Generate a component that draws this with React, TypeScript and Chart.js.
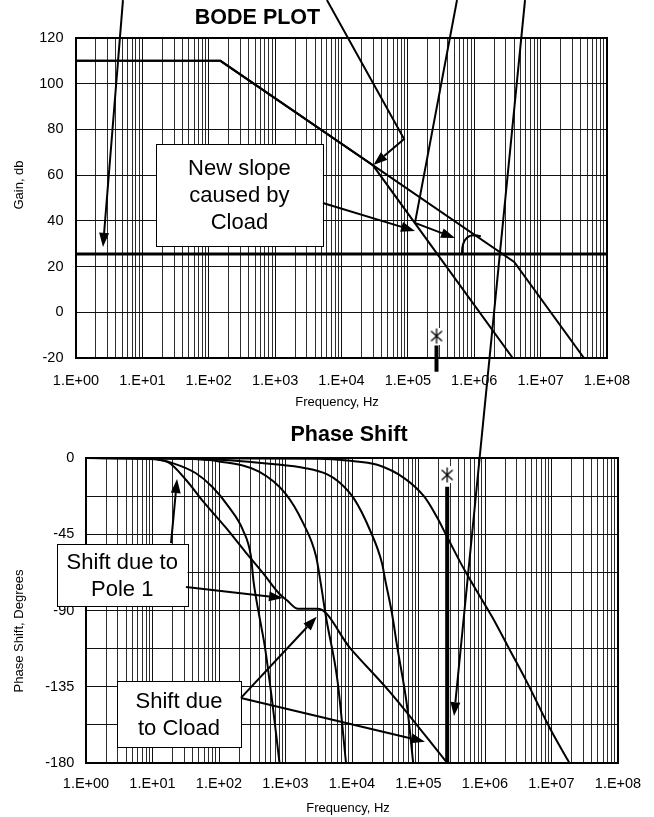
import React, { useEffect, useRef } from 'react';
import { Chart, registerables } from 'chart.js';

Chart.register(...registerables);

const FONT = '"Liberation Sans", Arial, Helvetica, sans-serif';
Chart.defaults.font.family = FONT;
Chart.defaults.color = '#000';

type Pt = [number, number];

// ---------- frequency axis (shared) ----------
const FREQ_MIN = 1;
const FREQ_MAX = 1e8;
const FREQ_TICK_LABELS = ['1.E+00', '1.E+01', '1.E+02', '1.E+03', '1.E+04', '1.E+05', '1.E+06', '1.E+07', '1.E+08'];
const GRID_MULTIPLIERS = [1, 2, 3, 4, 5, 6, 7, 8, 9];

// ---------- gain plot ----------
const GAIN_MIN = -20;
const GAIN_MAX = 120;
const GAIN_STEP = 20;

const gainFreqOpen = [1, 150, 4.0e6, 4.5e7];
const gainDbOpen = [110, 110, 22, -20];

const gainFreqCload = [1, 150, 3.0e4, 3.8e6];
const gainDbCload = [110, 110, 64.2, -20];

const refFreq = [1, 1e8];
const refGainDb = [25.5, 25.5];

const markerFreq = 2.7e5;
const markerGainDb = -10.4;
const markerGainStemDb = [-14.5, -26];

// ---------- phase plot ----------
const PHASE_MIN = -180;
const PHASE_MAX = 0;
const PHASE_STEP = 22.5;
const PHASE_LABEL_STEP = 45;

const phaseFreqPole1 = [1, 8, 17, 32, 56, 126, 250, 460, 800, 1050, 1550, 3100, 9300, 37000, 270000];
const phaseDegPole1 = [0, -0.5, -2.4, -13, -25, -41, -55.5, -68, -80, -84, -89, -89, -112, -138, -180];

const phaseFreqA = [1, 10, 20, 45, 79, 141, 229, 302, 331, 407, 490, 646, 813];
const phaseDegA = [0, -0.5, -3, -9, -17, -29, -42.5, -58, -73, -94, -111.5, -147, -180];

const phaseFreqB = [1, 32, 100, 400, 1000, 1820, 2880, 3390, 4070, 6030, 8130];
const phaseDegB = [0, -0.5, -2, -8, -21, -38, -58, -74, -94, -131, -180];

const phaseFreqC = [1, 100, 630, 2000, 4170, 6310, 10700, 18600, 28200, 31600, 39800, 47900, 67600, 83200];
const phaseDegC = [0, -1, -3.5, -6, -9.5, -14, -24, -42.5, -62, -72, -91.5, -111.5, -147, -180];

const phaseFreqD = [1, 3160, 8500, 24000, 61700, 123000, 190000, 269000, 490000, 851000, 1290000, 2340000, 4370000, 9330000, 17400000, 18600000];
const phaseDegD = [0, -0.5, -1.5, -4, -12, -23, -35, -46.5, -66, -82, -94, -113, -133, -159, -178, -180];

const markerPhaseDeg = -10;
const markerPhaseStemDeg = [-17, -180];

// ---------- callouts (in each plot's own units) ----------
const gainCallout = { from: [16, 73.6] as Pt, to: [5250, 29] as Pt, lines: ['New slope', 'caused by', 'Cload'] };
const gainArrows: Pt[][] = [
  [[5.1, 136.6], [2.55, 28.6]],
  [[6030, 136.6], [87700, 75.8], [30300, 64.4]],
  [[550000, 136.6], [128000, 39.1], [513000, 32.5]],
  [[5250, 47.8], [128000, 35.6]],
];
const gainHook: Pt[] = [[653000, 25.8], [653000, 35.6], [1.26e6, 33.2]];

const phaseCallouts = [
  { from: [0.366, -50.75] as Pt, to: [33.6, -87.3] as Pt, lines: ['Shift due to', 'Pole 1'] },
  { from: [2.92, -131.6] as Pt, to: [214, -170.6] as Pt, lines: ['Shift due', 'to Cload'] },
];
const phaseArrows: Pt[][] = [
  [[19, -50.2], [23.4, -12.4]],
  [[31.9, -76.1], [917, -82.6]],
  [[214, -141.6], [2946, -93.7]],
  [[214, -141.6], [125000, -167.4]],
];
// long pointer: starts above the gain plot, ends inside the phase plot
const crossArrowStart: Pt = [5.82e6, 136.6];
const crossArrowEnd: Pt = [342000, -152.3];

// ---------- layout ----------
const W = 654;
const TOP_H = 415;
const BOT_H = 402;

const toPoints = (xs: number[], ys: number[]) => xs.map((x, i) => ({ x, y: ys[i] }));

function gridFreqs(): number[] {
  const out: number[] = [];
  for (let e = 0; e < FREQ_TICK_LABELS.length - 1; e++) {
    for (const m of GRID_MULTIPLIERS) out.push(m * Math.pow(10, e));
  }
  out.push(FREQ_MAX);
  return out;
}

function decadeIndex(v: number): number {
  const e = Math.log10(v);
  const r = Math.round(e);
  return Math.abs(e - r) < 1e-6 ? r : -1;
}

function makeAsterisk(): HTMLCanvasElement {
  const c = document.createElement('canvas');
  c.width = 16;
  c.height = 17;
  const g = c.getContext('2d')!;
  g.fillStyle = '#fff';
  g.fillRect(0, 0, 16, 17);
  g.strokeStyle = '#000';
  g.lineWidth = 1.3;
  g.beginPath();
  g.moveTo(8, 1);
  g.lineTo(8, 16);
  g.moveTo(2.5, 3.5);
  g.lineTo(13.5, 13.5);
  g.moveTo(13.5, 3.5);
  g.lineTo(2.5, 13.5);
  g.stroke();
  return c;
}

const framePlugin = {
  id: 'plotFrame',
  afterDatasetsDraw(chart: any) {
    const { ctx, chartArea: a } = chart;
    ctx.save();
    ctx.strokeStyle = '#000';
    ctx.lineWidth = 2;
    ctx.strokeRect(a.left, a.top, a.right - a.left, a.bottom - a.top);
    ctx.restore();
  },
};

const panelTextPlugin = {
  id: 'panelText',
  afterDraw(chart: any, _args: any, o: any) {
    const { ctx, chartArea: a } = chart;
    ctx.save();
    ctx.fillStyle = '#000';
    ctx.textAlign = 'center';
    ctx.textBaseline = 'middle';
    ctx.font = `bold 21.5px ${FONT}`;
    ctx.fillText(o.title, a.left + o.titleDx, a.top + o.titleDy);
    ctx.font = `13px ${FONT}`;
    ctx.fillText(o.xTitle, a.left + o.xTitleDx, a.bottom + o.xTitleDy);
    ctx.translate(o.yTitleX, a.top + o.yTitleDy);
    ctx.rotate(-Math.PI / 2);
    ctx.fillText(o.yTitle, 0, 0);
    ctx.restore();
  },
};

function freqAxis(height: number, labelPad: number) {
  const ticks = gridFreqs();
  return {
    type: 'logarithmic' as const,
    min: FREQ_MIN,
    max: FREQ_MAX,
    afterBuildTicks: (s: any) => {
      s.ticks = ticks.map((value) => ({ value }));
    },
    afterFit: (s: any) => {
      s.height = height;
    },
    ticks: {
      autoSkip: false,
      maxRotation: 0,
      minRotation: 0,
      padding: labelPad,
      color: '#000',
      font: { size: 14.5, family: FONT },
      callback: (v: any) => {
        const i = decadeIndex(Number(v));
        return i >= 0 ? FREQ_TICK_LABELS[i] : '';
      },
    },
    grid: {
      drawTicks: false,
      color: (c: any) => (c.tick && decadeIndex(c.tick.value) >= 0 ? '#111' : '#2e2e2e'),
      lineWidth: 1,
    },
    border: { display: false },
  };
}

function lineSet(data: { x: number; y: number }[], width: number, smooth: boolean, extra: any = {}) {
  return {
    data,
    borderColor: '#000',
    backgroundColor: '#000',
    borderWidth: width,
    pointRadius: 0,
    fill: false,
    tension: 0,
    cubicInterpolationMode: smooth ? ('monotone' as const) : ('default' as const),
    order: 1,
    ...extra,
  };
}

function gainConfig(star: HTMLCanvasElement): any {
  return {
    type: 'line',
    data: {
      datasets: [
        {
          data: [{ x: markerFreq, y: markerGainDb }],
          showLine: false,
          pointStyle: star,
          pointRadius: 7,
          clip: false,
          order: 0,
        },
        lineSet(toPoints([markerFreq, markerFreq], markerGainStemDb), 4, false, { clip: false }),
        lineSet(toPoints(refFreq, refGainDb), 3, false),
        lineSet(toPoints(gainFreqOpen, gainDbOpen), 2, false),
        lineSet(toPoints(gainFreqCload, gainDbCload), 2, false),
      ],
    },
    options: {
      responsive: false,
      animation: false,
      events: [],
      layout: { padding: { top: 38, right: 47, bottom: 0, left: 0 } },
      scales: {
        x: freqAxis(TOP_H - 358, 14),
        y: {
          min: GAIN_MIN,
          max: GAIN_MAX,
          afterFit: (s: any) => {
            s.width = 76;
          },
          ticks: { stepSize: GAIN_STEP, padding: 12.5, color: '#000', font: { size: 14.5, family: FONT } },
          grid: { drawTicks: false, color: '#111', lineWidth: 1 },
          border: { display: false },
        },
      },
      plugins: {
        legend: { display: false },
        tooltip: { enabled: false },
        panelText: {
          title: 'BODE PLOT',
          titleDx: 181.5,
          titleDy: -20,
          xTitle: 'Frequency, Hz',
          xTitleDx: 261,
          xTitleDy: 44,
          yTitle: 'Gain, db',
          yTitleX: 19,
          yTitleDy: 147,
        },
      },
    },
    plugins: [framePlugin, panelTextPlugin],
  };
}

function phaseConfig(star: HTMLCanvasElement): any {
  return {
    type: 'line',
    data: {
      datasets: [
        {
          data: [{ x: markerFreq, y: markerPhaseDeg }],
          showLine: false,
          pointStyle: star,
          pointRadius: 7,
          clip: false,
          order: 0,
        },
        lineSet(toPoints([markerFreq, markerFreq], markerPhaseStemDeg), 4, false),
        lineSet(toPoints(phaseFreqPole1, phaseDegPole1), 2, true),
        lineSet(toPoints(phaseFreqA, phaseDegA), 2, true),
        lineSet(toPoints(phaseFreqB, phaseDegB), 2, true),
        lineSet(toPoints(phaseFreqC, phaseDegC), 2, true),
        lineSet(toPoints(phaseFreqD, phaseDegD), 2, true),
      ],
    },
    options: {
      responsive: false,
      animation: false,
      events: [],
      layout: { padding: { top: 43, right: 36, bottom: 0, left: 0 } },
      scales: {
        x: freqAxis(BOT_H - 348, 12.3),
        y: {
          min: PHASE_MIN,
          max: PHASE_MAX,
          afterFit: (s: any) => {
            s.width = 86;
          },
          ticks: {
            stepSize: PHASE_STEP,
            padding: 11.7,
            color: '#000',
            font: { size: 14.5, family: FONT },
            callback: (v: any) => (Number(v) % PHASE_LABEL_STEP === 0 ? String(Number(v) + 0) : ''),
          },
          grid: { drawTicks: false, color: '#111', lineWidth: 1 },
          border: { display: false },
        },
      },
      plugins: {
        legend: { display: false },
        tooltip: { enabled: false },
        panelText: {
          title: 'Phase Shift',
          titleDx: 263,
          titleDy: -22.5,
          xTitle: 'Frequency, Hz',
          xTitleDx: 262,
          xTitleDy: 45,
          yTitle: 'Phase Shift, Degrees',
          yTitleX: 19,
          yTitleDy: 173,
        },
      },
    },
    plugins: [framePlugin, panelTextPlugin],
  };
}

type XY = { x: number; y: number };

function drawArrow(ctx: CanvasRenderingContext2D, pts: XY[]) {
  const n = pts.length;
  const tip = pts[n - 1];
  const prev = pts[n - 2];
  const ang = Math.atan2(tip.y - prev.y, tip.x - prev.x);
  const L = 14;
  const hw = 5;
  const bx = tip.x - L * Math.cos(ang);
  const by = tip.y - L * Math.sin(ang);
  ctx.beginPath();
  ctx.moveTo(pts[0].x, pts[0].y);
  for (let i = 1; i < n - 1; i++) ctx.lineTo(pts[i].x, pts[i].y);
  ctx.lineTo(bx, by);
  ctx.stroke();
  ctx.beginPath();
  ctx.moveTo(tip.x, tip.y);
  ctx.lineTo(bx + hw * Math.sin(ang), by - hw * Math.cos(ang));
  ctx.lineTo(bx - hw * Math.sin(ang), by + hw * Math.cos(ang));
  ctx.closePath();
  ctx.fill();
}

function drawCallout(ctx: CanvasRenderingContext2D, a: XY, b: XY, lines: string[]) {
  const x = Math.min(a.x, b.x);
  const y = Math.min(a.y, b.y);
  const w = Math.abs(b.x - a.x);
  const h = Math.abs(b.y - a.y);
  ctx.fillStyle = '#fff';
  ctx.fillRect(x, y, w, h);
  ctx.strokeStyle = '#000';
  ctx.lineWidth = 1;
  ctx.strokeRect(Math.round(x) + 0.5, Math.round(y) + 0.5, Math.round(w), Math.round(h));
  ctx.fillStyle = '#000';
  ctx.font = `22px ${FONT}`;
  ctx.textAlign = 'center';
  ctx.textBaseline = 'middle';
  const lh = 27;
  const cy = y + h / 2 - ((lines.length - 1) * lh) / 2;
  lines.forEach((t, i) => ctx.fillText(t, x + w / 2, cy + i * lh + 1));
}

function drawOverlay(canvas: HTMLCanvasElement, gain: Chart, phase: Chart, phaseTop: number) {
  const ctx = canvas.getContext('2d')!;
  ctx.clearRect(0, 0, canvas.width, canvas.height);
  const gx = gain.scales.x;
  const gy = gain.scales.y;
  const px = phase.scales.x;
  const py = phase.scales.y;
  const gp = (p: Pt): XY => ({ x: gx.getPixelForValue(p[0]), y: gy.getPixelForValue(p[1]) });
  const pp = (p: Pt): XY => ({ x: px.getPixelForValue(p[0]), y: phaseTop + py.getPixelForValue(p[1]) });

  ctx.save();
  drawCallout(ctx, gp(gainCallout.from), gp(gainCallout.to), gainCallout.lines);
  phaseCallouts.forEach((c) => drawCallout(ctx, pp(c.from), pp(c.to), c.lines));

  ctx.strokeStyle = '#000';
  ctx.fillStyle = '#000';
  ctx.lineWidth = 2;
  ctx.lineJoin = 'miter';
  gainArrows.forEach((a) => drawArrow(ctx, a.map(gp)));
  phaseArrows.forEach((a) => drawArrow(ctx, a.map(pp)));
  drawArrow(ctx, [gp(crossArrowStart), pp(crossArrowEnd)]);

  const [h0, h1, h2] = gainHook.map(gp);
  ctx.beginPath();
  ctx.moveTo(h0.x, h0.y);
  ctx.quadraticCurveTo(h1.x, h1.y, h2.x, h2.y);
  ctx.stroke();
  ctx.restore();
}

export default function App() {
  const gainRef = useRef<HTMLCanvasElement>(null);
  const phaseRef = useRef<HTMLCanvasElement>(null);
  const overlayRef = useRef<HTMLCanvasElement>(null);

  useEffect(() => {
    const star = makeAsterisk();
    const gain = new Chart(gainRef.current!, gainConfig(star));
    const phase = new Chart(phaseRef.current!, phaseConfig(star));
    drawOverlay(overlayRef.current!, gain, phase, TOP_H);
    return () => {
      gain.destroy();
      phase.destroy();
    };
  }, []);

  return (
    <div style={{ position: 'fixed', left: 0, top: 0, width: W, height: TOP_H + BOT_H, background: '#fff' }}>
      <canvas ref={gainRef} width={W} height={TOP_H} style={{ position: 'absolute', left: 0, top: 0 }} />
      <canvas ref={phaseRef} width={W} height={BOT_H} style={{ position: 'absolute', left: 0, top: TOP_H }} />
      <canvas
        ref={overlayRef}
        width={W}
        height={TOP_H + BOT_H}
        style={{ position: 'absolute', left: 0, top: 0, pointerEvents: 'none' }}
      />
    </div>
  );
}
